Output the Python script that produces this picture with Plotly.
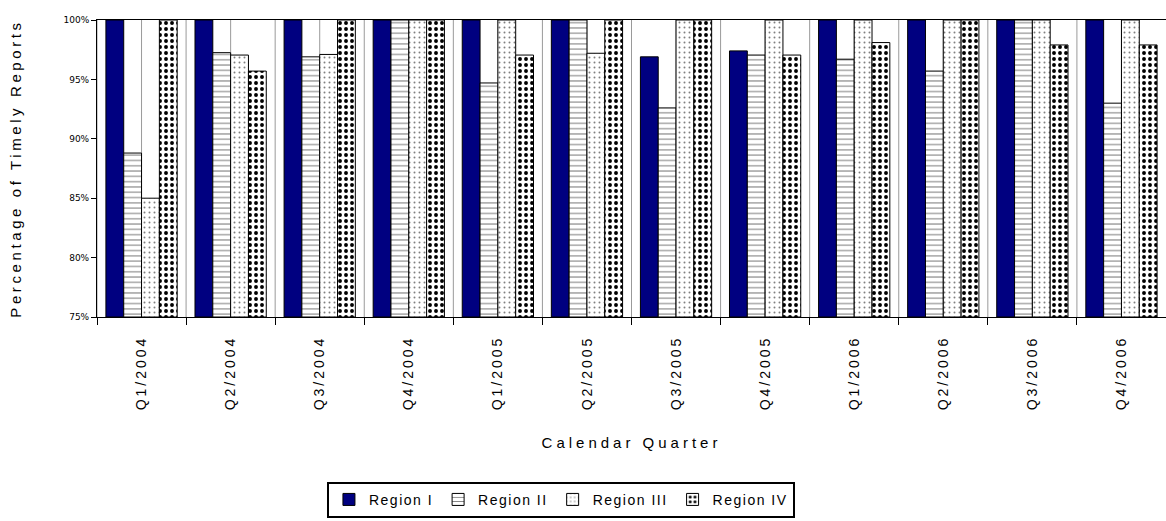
import plotly.graph_objects as go

quarters = ["Q1/2004", "Q2/2004", "Q3/2004", "Q4/2004",
            "Q1/2005", "Q2/2005", "Q3/2005", "Q4/2005",
            "Q1/2006", "Q2/2006", "Q3/2006", "Q4/2006"]

region_1 = [100, 100, 100, 100, 100, 100, 96.9, 97.4, 100, 100, 100, 100]
region_2 = [88.8, 97.25, 96.9, 100, 94.7, 100, 92.6, 97.05, 96.7, 95.7, 100, 93.0]
region_3 = [85.0, 97.05, 97.1, 100, 100, 97.2, 100, 100, 100, 100, 100, 100]
region_4 = [100, 95.7, 100, 100, 97.05, 100, 100, 97.05, 98.1, 100, 97.9, 97.9]

y_ticks = [75, 80, 85, 90, 95, 100]
y_tick_text = ["75%", "80%", "85%", "90%", "95%", "100%"]

AXIS_FLOOR = 75
FONT = "Liberation Sans, Arial, sans-serif"


def spaced(text, px=1.5):
    return f'<span style="letter-spacing:{px}px">{text}</span>'


series = [
    ("Region I", region_1, dict(color="#000080")),
    ("Region II", region_2, dict(color="white",
                                 pattern=dict(shape="-", fgcolor="black", bgcolor="white",
                                              size=5.3, solidity=0.2, fillmode="overlay"))),
    ("Region III", region_3, dict(color="white",
                                  pattern=dict(shape=".", fgcolor="black", bgcolor="white",
                                               size=5, solidity=0.12, fillmode="overlay"))),
    ("Region IV", region_4, dict(color="white",
                                 pattern=dict(shape=".", fgcolor="black", bgcolor="white",
                                              size=6, solidity=0.33, fgopacity=1,
                                              fillmode="overlay"))),
]

fig = go.Figure()
for name, vals, marker in series:
    # bars rise from the 75% floor of the value axis
    fig.add_trace(go.Bar(
        x=quarters, y=[v - AXIS_FLOOR for v in vals], base=AXIS_FLOOR,
        name=spaced(name, 1.5),
        marker=dict(**marker, line=dict(color="black", width=1)),
    ))

# vertical guide lines at group boundaries and group centres
for i in range(len(quarters)):
    for pos in (i - 0.5, i):
        fig.add_shape(type="line", xref="x", yref="paper", x0=pos, x1=pos, y0=0, y1=1,
                      line=dict(color="#9a9a9a", width=1), layer="below")

fig.update_layout(
    width=1166, height=521,
    margin=dict(l=97, r=0, t=20, b=204),
    paper_bgcolor="white", plot_bgcolor="white",
    barmode="group", bargap=0.2, bargroupgap=0,
    font=dict(family=FONT, color="black"),
    showlegend=True,
    legend=dict(orientation="h", x=0.434, xanchor="center", y=-0.555, yanchor="top",
                bordercolor="black", borderwidth=2, font=dict(size=14),
                itemwidth=30, tracegroupgap=0),
    xaxis=dict(
        categoryorder="array", categoryarray=quarters,
        tickvals=quarters, ticktext=[spaced(q, 3) for q in quarters],
        range=[-0.5, len(quarters) - 0.5],
        showline=True, linecolor="black", linewidth=1, mirror=True,
        ticks="outside", tickson="boundaries", ticklen=7, tickcolor="black",
        tickangle=-90, tickfont=dict(size=14), ticklabelstandoff=12,
        showgrid=False,
        title=dict(text=spaced("Calendar Quarter", 4), font=dict(size=15), standoff=28),
    ),
    yaxis=dict(
        range=[AXIS_FLOOR, 100],
        tickvals=y_ticks, ticktext=y_tick_text,
        tickfont=dict(size=9, family="DejaVu Sans"),
        showline=True, linecolor="black", linewidth=1,
        ticks="outside", ticklen=5, tickcolor="black",
        showgrid=False, zeroline=False,
        title=dict(text=spaced("Percentage of Timely Reports", 3.6), font=dict(size=15), standoff=38),
    ),
)

fig.write_html("out.html")
